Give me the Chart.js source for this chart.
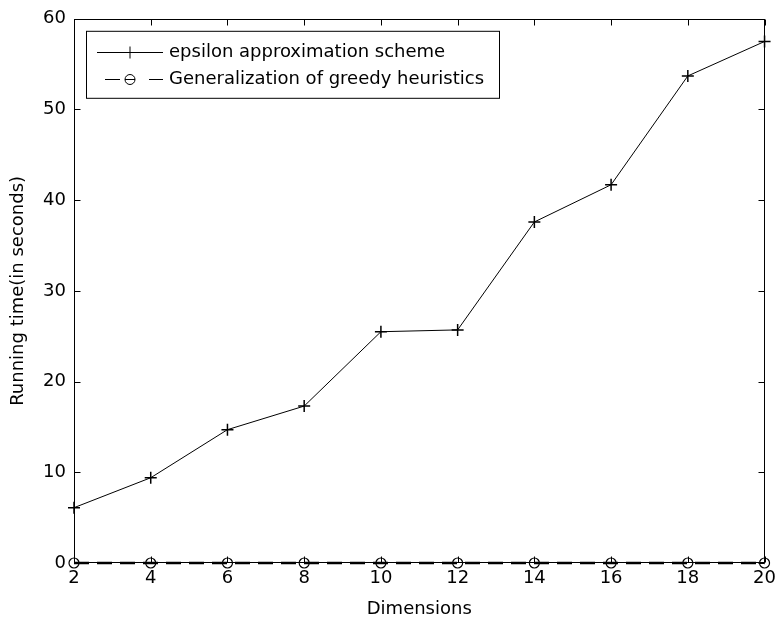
<!DOCTYPE html>
<html>
<head>
<meta charset="utf-8">
<script src="https://cdn.jsdelivr.net/npm/chart.js@4"></script>
<style>
  html, body { margin: 0; padding: 0; background: #fff; }
  #wrap { width: 781px; height: 621px; }
</style>
</head>
<body>
<div id="wrap"><canvas id="c" width="781" height="621"></canvas></div>
<script>
const dimensions = [2, 4, 6, 8, 10, 12, 14, 16, 18, 20];
const epsilonTimes = [6.1, 9.4, 14.7, 17.3, 25.5, 25.7, 37.6, 41.7, 53.7, 57.5];
const greedyTimes = [0, 0, 0, 0, 0, 0, 0, 0, 0, 0];
const seriesLabels = ['epsilon approximation scheme', 'Generalization of greedy heuristics'];
const xTitle = 'Dimensions';
const yTitle = 'Running time(in seconds)';

const FONT = 'DejaVu Sans';

const framePlugin = {
  id: 'frame',
  afterDatasetsDraw(chart) {
    const ctx = chart.ctx;
    const a = chart.chartArea;
    const L = Math.round(a.left) + 0.5, R = Math.round(a.right) - 0.5;
    const T = Math.round(a.top) + 0.5, B = Math.round(a.bottom) - 0.5;
    ctx.save();
    ctx.strokeStyle = '#000';
    ctx.lineWidth = 1;
    ctx.strokeRect(L, T, R - L, B - T);
    const len = 6;
    ctx.beginPath();
    chart.scales.x.ticks.forEach(t => {
      const px = Math.round(chart.scales.x.getPixelForValue(t.value)) + 0.5;
      ctx.moveTo(px, B); ctx.lineTo(px, B - len);
      ctx.moveTo(px, T); ctx.lineTo(px, T + len);
    });
    chart.scales.y.ticks.forEach(t => {
      const py = Math.round(chart.scales.y.getPixelForValue(t.value)) + 0.5;
      ctx.moveTo(L, py); ctx.lineTo(L + len, py);
      ctx.moveTo(R, py); ctx.lineTo(R - len, py);
    });
    ctx.stroke();
    ctx.restore();
  },
  afterDraw(chart) {
    const ctx = chart.ctx;
    const a = chart.chartArea;
    const bx = a.left + 12, by = a.top + 12, bw = 413, bh = 67;
    ctx.save();
    ctx.fillStyle = '#fff';
    ctx.fillRect(bx, by, bw, bh);
    ctx.strokeStyle = '#000';
    ctx.lineWidth = 1;
    ctx.strokeRect(bx + 0.5, by + 0.5, bw, bh);
    const rows = [by + 21, by + 48];
    chart.data.datasets.forEach((ds, i) => {
      const y = Math.round(rows[i]) + 0.5;
      const x0 = bx + 11, x1 = bx + 77, xm = (x0 + x1) / 2;
      ctx.strokeStyle = '#000';
      ctx.lineWidth = 1;
      ctx.beginPath();
      if (ds.borderDash && ds.borderDash.length) {
        ctx.moveTo(x0 + 8, y); ctx.lineTo(x0 + 23, y);
        ctx.moveTo(x1 - 14, y); ctx.lineTo(x1, y);
      } else {
        ctx.moveTo(x0, y); ctx.lineTo(x1, y);
      }
      ctx.stroke();
      ctx.beginPath();
      const r = ds.pointRadius;
      if (ds.pointStyle === 'cross') {
        ctx.moveTo(xm - r, y); ctx.lineTo(xm + r, y);
        ctx.moveTo(xm, y - r); ctx.lineTo(xm, y + r);
      } else {
        ctx.moveTo(xm + r, y);
        ctx.arc(xm, y, r, 0, Math.PI * 2);
        ctx.moveTo(xm - r, y); ctx.lineTo(xm + r, y);
      }
      ctx.stroke();
      ctx.fillStyle = '#000';
      ctx.font = '18px "' + FONT + '"';
      ctx.textBaseline = 'middle';
      ctx.textAlign = 'left';
      ctx.fillText(ds.label, x1 + 6, y);
    });
    ctx.restore();
  }
};

const toPoints = (xs, ys) => xs.map((x, i) => ({ x: x, y: ys[i] }));

new Chart(document.getElementById('c'), {
  type: 'line',
  data: {
    datasets: [
      {
        label: seriesLabels[0],
        data: toPoints(dimensions, epsilonTimes),
        borderColor: '#000',
        borderWidth: 1,
        pointStyle: 'cross',
        pointRadius: 6,
        pointBorderWidth: 1.5,
        pointBorderColor: '#000',
        backgroundColor: 'transparent',
        tension: 0,
        fill: false,
        clip: false
      },
      {
        label: seriesLabels[1],
        data: toPoints(dimensions, greedyTimes),
        borderColor: '#000',
        borderWidth: 2.5,
        borderDash: [15, 8],
        pointStyle: 'circle',
        pointRadius: 5,
        pointBorderWidth: 1.2,
        pointBorderColor: '#000',
        pointBackgroundColor: 'transparent',
        backgroundColor: 'transparent',
        tension: 0,
        fill: false,
        clip: false
      }
    ]
  },
  options: {
    responsive: false,
    animation: false,
    devicePixelRatio: 1,
    layout: { padding: { top: 15, right: 11, left: 0, bottom: 0 } },
    plugins: { legend: { display: false }, tooltip: { enabled: false } },
    scales: {
      x: {
        type: 'linear',
        min: 2, max: 20,
        afterFit: s => { s.height = 58; },
        afterBuildTicks: s => { s.ticks = dimensions.map(v => ({ value: v })); },
        grid: { display: false, drawTicks: false },
        border: { display: false },
        ticks: { color: '#000', font: { family: FONT, size: 18 }, padding: 5, maxRotation: 0 },
        title: { display: true, text: xTitle, color: '#000', font: { family: FONT, size: 18 }, padding: { top: 0, bottom: 1 } }
      },
      y: {
        min: 0, max: 60,
        afterFit: s => { s.width = 74; },
        grid: { display: false, drawTicks: false },
        border: { display: false },
        ticks: { stepSize: 10, color: '#000', font: { family: FONT, size: 18 }, padding: 8 },
        title: { display: true, text: yTitle, color: '#000', font: { family: FONT, size: 18 }, padding: { top: 8, bottom: 0 } }
      }
    }
  },
  plugins: [framePlugin]
});
</script>
</body>
</html>
